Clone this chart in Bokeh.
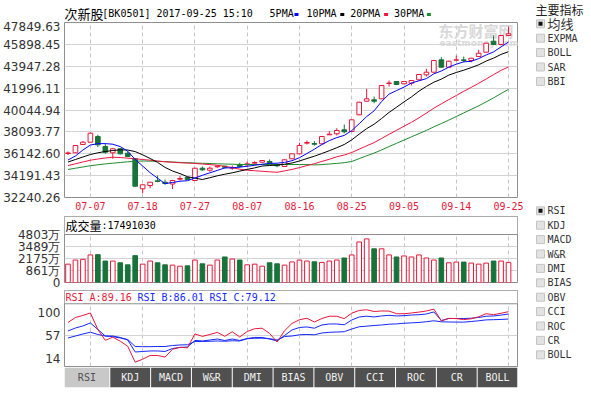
from bokeh.plotting import figure
from bokeh.layouts import row, column
from bokeh.models import ColumnDataSource, FixedTicker, Range1d, Span, Label, PrintfTickFormatter
from bokeh.core.properties import value
from bokeh.embed import file_html
from bokeh.resources import INLINE

# ---------------- data ----------------
board_name = "次新股"
board_code = "BK0501"
stamp = "2017-09-25 15:10"
ma_names = ["5PMA", "10PMA", "20PMA", "30PMA"]

dates = ["2017-07-04", "2017-07-05", "2017-07-06", "2017-07-07", "2017-07-10", "2017-07-11",
         "2017-07-12", "2017-07-13", "2017-07-14", "2017-07-17", "2017-07-18", "2017-07-19",
         "2017-07-20", "2017-07-21", "2017-07-24", "2017-07-25", "2017-07-26", "2017-07-27",
         "2017-07-28", "2017-07-31", "2017-08-01", "2017-08-02", "2017-08-03", "2017-08-04",
         "2017-08-07", "2017-08-08", "2017-08-09", "2017-08-10", "2017-08-11", "2017-08-14",
         "2017-08-15", "2017-08-16", "2017-08-17", "2017-08-18", "2017-08-21", "2017-08-22",
         "2017-08-23", "2017-08-24", "2017-08-25", "2017-08-28", "2017-08-29", "2017-08-30",
         "2017-08-31", "2017-09-01", "2017-09-04", "2017-09-05", "2017-09-06", "2017-09-07",
         "2017-09-08", "2017-09-11", "2017-09-12", "2017-09-13", "2017-09-14", "2017-09-15",
         "2017-09-18", "2017-09-19", "2017-09-20", "2017-09-21", "2017-09-22", "2017-09-25"]

opens = [36164, 36227, 36967, 37172, 37681, 36789, 36227, 36584, 36191, 35692,
         33016, 33310, 33729, 33604, 33444, 33872, 34024, 33756, 34853, 34675,
         34978, 35032, 34853, 35156, 35156, 35299, 35388, 35451, 35156, 35005,
         35692, 36138, 37083, 37056, 37030, 37832, 37922, 38278, 38127, 39616,
         40830, 40954, 41044, 42408, 42587, 42382, 42435, 42738, 43184, 43416,
         44522, 43862, 44487, 44522, 44460, 44817, 45200, 46182, 45887, 46690]
highs = [36343, 36923, 37279, 38038, 37832, 37030, 36655, 36655, 36343, 35745,
         33399, 33640, 34202, 33845, 33818, 34157, 34113, 34889, 35005, 35005,
         35121, 35067, 35094, 35335, 35451, 35478, 35585, 35629, 35246, 35629,
         36164, 37119, 37324, 37262, 37708, 38154, 38421, 38751, 39197, 40776,
         41936, 41249, 42257, 42676, 42631, 42631, 42703, 43238, 43720, 44487,
         44754, 44433, 44906, 44817, 44701, 45414, 46039, 46690, 46717, 47493]
lows = [36031, 36209, 36923, 37146, 36726, 36138, 35692, 36075, 35834, 33221,
        32623, 33069, 33604, 33372, 32998, 33756, 33801, 33711, 34621, 34532,
        34889, 34826, 34710, 34889, 35005, 35156, 35362, 35121, 34942, 34978,
        35656, 36102, 36967, 36878, 36994, 37815, 37770, 37975, 38082, 39581,
        40803, 40651, 41008, 42141, 42275, 42346, 42230, 42703, 43033, 43390,
        43809, 43836, 44398, 44308, 44308, 44790, 45174, 45860, 45860, 46663]
closes = [36218, 36878, 37172, 37975, 36940, 36280, 36584, 36138, 35897, 33248,
          33372, 33604, 33667, 33488, 33756, 33934, 33845, 34853, 34710, 34853,
          35032, 34930, 34916, 35005, 35246, 35362, 35540, 35272, 35067, 35602,
          36138, 36878, 37146, 36994, 37681, 37886, 38216, 38100, 39170, 40740,
          41044, 40830, 42230, 42453, 42319, 42587, 42676, 43211, 43416, 44460,
          43862, 44398, 44522, 44460, 44665, 45111, 46003, 45887, 46690, 46842]

ma5 = [35585, 35941, 36477, 36923, 37039, 37048, 36994, 36780, 36370, 35629,
       35049, 34452, 33961, 33479, 33578, 33694, 33738, 33979, 34220, 34443,
       34657, 34878, 34887, 34949, 35029, 35112, 35210, 35281, 35299, 35371,
       35522, 35790, 36164, 36548, 36967, 37315, 37583, 37779, 38207, 38823,
       39456, 39973, 40803, 41463, 41775, 42087, 42453, 42649, 42845, 43274,
       43523, 43871, 44130, 44344, 44380, 44629, 44951, 45227, 45673, 46110]
ma10 = [35406, 35629, 35852, 36075, 36227, 36343, 36432, 36494, 36477, 36334,
        36048, 35718, 35371, 34925, 34603, 34371, 34095, 33970, 33845, 34006,
        34175, 34318, 34443, 34594, 34746, 34880, 35049, 35094, 35130, 35210,
        35317, 35495, 35718, 35924, 36164, 36414, 36682, 36967, 37378, 37895,
        38385, 38778, 39286, 39831, 40294, 40767, 41213, 41722, 42150, 42524,
        42801, 43158, 43390, 43595, 43827, 44076, 44406, 44674, 45004, 45245]
ma20 = [35094, 35246, 35406, 35567, 35674, 35763, 35834, 35808, 35745, 35692,
        35629, 35567, 35495, 35424, 35379, 35344, 35308, 35272, 35228, 35174,
        35112, 35023, 34907, 34759, 34675, 34630, 34577, 34532, 34492, 34612,
        34746, 34907, 35085, 35255, 35460, 35652, 35870, 36031, 36254, 36552,
        36851, 37137, 37507, 37877, 38234, 38595, 38947, 39349, 39768, 40210,
        40598, 40972, 41338, 41713, 42061, 42426, 42810, 43202, 43581, 43885]
ma30 = [34737, 34853, 34960, 35076, 35156, 35237, 35299, 35362, 35424, 35478,
        35495, 35486, 35469, 35442, 35406, 35371, 35344, 35317, 35290, 35272,
        35246, 35228, 35210, 35192, 35183, 35183, 35183, 35183, 35183, 35183,
        35183, 35183, 35178, 35148, 35174, 35228, 35281, 35344, 35451, 35705,
        35959, 36200, 36486, 36784, 37074, 37360, 37654, 37931, 38225, 38546,
        38836, 39144, 39465, 39786, 40098, 40419, 40767, 41124, 41516, 41891]

# volume in 万 (10k) shares
volume_wan = [1559, 2007, 2085, 2566, 2599, 1895, 1895, 1705, 1481, 2487,
              1559, 1895, 1705, 1481, 1448, 1336, 1369, 2007, 1593, 1448,
              2007, 2342, 2118, 2007, 1481, 1559, 1336, 1705, 1593, 1448,
              1800, 2007, 1895, 1817, 1749, 1895, 2007, 2230, 2566, 3985,
              4321, 3236, 3236, 2566, 2342, 2454, 2342, 2566, 2230, 2007,
              2230, 1705, 1783, 1783, 1671, 1559, 1671, 1895, 1895, 1749]
last_volume = 17491030

rsi_a = [74.4, 81.2, 84.0, 87.4, 64.8, 49.9, 54.2, 48.7, 41.7, 19.9,
         24.0, 29.1, 29.1, 26.9, 37.6, 40.3, 39.6, 58.7, 55.3, 57.9,
         60.8, 55.4, 61.6, 54.5, 62.0, 65.8, 66.5, 59.3, 47.6, 63.0,
         73.0, 78.1, 80.1, 75.0, 79.8, 82.9, 82.9, 79.6, 87.2, 90.8,
         91.8, 89.4, 90.1, 90.0, 86.4, 86.3, 87.4, 88.6, 90.1, 92.7,
         76.4, 80.0, 79.7, 78.3, 79.4, 82.2, 86.4, 85.0, 87.0, 89.16]
rsi_b = [62.7, 66.8, 69.6, 73.7, 64.8, 55.8, 55.8, 53.8, 50.3, 33.9,
         34.6, 35.3, 35.3, 34.6, 38.7, 40.1, 40.7, 49.7, 49.0, 50.3,
         51.7, 49.7, 51.7, 49.7, 52.4, 53.8, 53.8, 51.7, 49.0, 56.5,
         64.1, 67.5, 68.2, 66.5, 70.9, 72.3, 72.3, 71.2, 77.8, 81.9,
         83.0, 81.9, 83.3, 84.2, 83.3, 83.7, 84.6, 85.0, 86.0, 88.8,
         77.1, 79.8, 79.8, 79.8, 80.2, 81.2, 82.9, 83.3, 84.5, 86.01]
rsi_c = [53.1, 55.8, 58.6, 61.0, 57.9, 55.8, 54.9, 53.1, 51.0, 41.4,
         41.2, 41.2, 41.4, 41.4, 42.8, 43.5, 43.8, 48.3, 48.3, 48.6,
         49.0, 48.6, 49.3, 49.0, 52.1, 52.7, 52.8, 52.1, 50.3, 55.1,
         55.8, 57.5, 57.9, 57.5, 59.9, 60.9, 61.3, 61.7, 65.4, 68.5,
         69.3, 70.2, 70.9, 72.0, 72.4, 73.3, 73.8, 74.4, 75.4, 76.7,
         75.3, 75.0, 74.9, 74.8, 75.7, 76.7, 77.9, 78.2, 78.5, 79.12]

price_ticks = [47849.63, 45898.45, 43947.28, 41996.11, 40044.94,
               38093.77, 36142.60, 34191.43, 32240.26]
vol_ticks = [861, 2175, 3489, 4803]
vol_floor = -453          # value at the bottom edge of the volume pane (labelled 0)
vol_header_top = 6774     # pane top incl. header strip
rsi_ticks = [100, 57, 14]
rsi_header_top = 118.2
date_tick_labels = ["07-07", "07-18", "07-27", "08-07", "08-16",
                    "08-25", "09-05", "09-14", "09-25"]

main_indicators = ["均线", "EXPMA", "BOLL", "SAR", "BBI"]
sub_indicators = ["RSI", "KDJ", "MACD", "W&R", "DMI", "BIAS", "OBV", "CCI", "ROC", "CR", "BOLL"]

# ---------------- style ----------------
RED = "#e8173a"
GREEN = "#18733a"
BLUE = "#1428ff"
MA_COLORS = ["#0000ff", "#000000", "#f01640", "#1f8b2c"]
FRAME = "#8f8f8f"
GRID_H = "#d3d3d3"
GRID_V = "#c6c6c6"
TEXT = "#333333"
MONO = "DejaVu Sans Mono"
SANS = "DejaVu Sans"
CJK = "Noto Sans CJK SC"

n = len(dates)
idx = list(range(n))
is_up = [c >= o for o, c in zip(opens, closes)]
edge = [RED if u else GREEN for u in is_up]
face = ["#ffffff" if u else GREEN for u in is_up]
tick_idx = [dates.index("2017-" + s) for s in date_tick_labels]

X = Range1d(-0.467, n + 0.2)
LEFT_W, FRAME_L, FRAME_R = 530, 62, 517


def panel(height, y_range, top, bottom, x_axis=None, y_axis="left"):
    p = figure(width=LEFT_W, height=height, x_range=X, y_range=y_range,
               x_axis_location=x_axis, y_axis_location=y_axis,
               output_backend="svg", toolbar_location=None, title=None,
               min_border_left=FRAME_L, min_border_right=LEFT_W - FRAME_R,
               min_border_top=top, min_border_bottom=bottom,
               background_fill_color="white", border_fill_color="white",
               outline_line_color=FRAME)
    p.xgrid.ticker = FixedTicker(ticks=tick_idx)
    p.xgrid.grid_line_color = GRID_V
    p.xgrid.grid_line_dash = "4 3"
    p.ygrid.grid_line_color = GRID_H
    for ax in p.axis:
        ax.axis_line_color = None
        ax.major_tick_line_color = None
        ax.minor_tick_line_color = None
        ax.major_tick_out = 0
        ax.major_tick_in = 0
        ax.minor_tick_out = 0
        ax.minor_tick_in = 0
        ax.major_label_standoff = 4
        ax.major_label_text_color = TEXT
        ax.major_label_text_font = SANS
        ax.major_label_text_font_size = "12px"
    return p


def deco(width, height, x_range, y_range, left=0, right=0, top=0, bottom=0):
    p = figure(width=width, height=height, x_range=x_range, y_range=y_range,
               x_axis_location=None, y_axis_location=None, output_backend="svg",
               toolbar_location=None, title=None, min_border_left=left,
               min_border_right=right, min_border_top=top, min_border_bottom=bottom,
               outline_line_color=None, background_fill_color="white",
               border_fill_color="white")
    p.grid.visible = False
    return p


def txt(p, x, y, s, font=MONO, size="10px", color="#000000", align="left", **kw):
    p.text(x=[x], y=[y], text=[s], text_font=value(font), text_font_size=value(size),
           text_color=color, text_align=align, text_baseline="middle", **kw)


# ---------------- header row (same frame as the panes below) ----------------
p_head = deco(LEFT_W, 21, Range1d(FRAME_L, FRAME_R), Range1d(21, 0),
              left=FRAME_L, right=LEFT_W - FRAME_R)
txt(p_head, 62, 12.5, board_name, font=CJK, size="13px")
txt(p_head, 100, 12.5, f"[{board_code}] {stamp}")
leg_x = [268, 305, 349, 393]
leg_mark = [295, 341, 385, 428]
for name, lx, mx, col in zip(ma_names, leg_x, leg_mark, MA_COLORS):
    txt(p_head, lx, 12.5, name)
    p_head.rect(x=[mx], y=[14], width=4, height=3, fill_color=col, line_color=None)

# ---------------- main price pane ----------------
p_main = panel(194, Range1d(min(price_ticks), max(price_ticks)), 1, 18, x_axis="below")
p_main.yaxis.ticker = FixedTicker(ticks=price_ticks)
p_main.yaxis.formatter = PrintfTickFormatter(format="%.2f")
p_main.xaxis.ticker = FixedTicker(ticks=tick_idx)
p_main.xaxis.major_label_overrides = {i: s for i, s in zip(tick_idx, date_tick_labels)}
p_main.xaxis.major_label_text_color = RED
p_main.xaxis.major_label_text_font = MONO
p_main.xaxis.major_label_text_font_size = "10px"

p_main.add_layout(Label(x=374, y=167, x_units="screen", y_units="screen", text="东方财富网",
                        text_font=CJK, text_font_size="15px", text_font_style="bold",
                        text_color="#d8d8d8", text_baseline="middle", level="underlay"))
p_main.add_layout(Label(x=375, y=155, x_units="screen", y_units="screen", text="eastmoney.com",
                        text_font=SANS, text_font_size="9px", text_font_style="bold",
                        text_color="#dadada", text_baseline="middle", level="underlay"))

src = ColumnDataSource(dict(x=idx, h=highs, l=lows,
                            top=[max(o, c) for o, c in zip(opens, closes)],
                            bottom=[min(o, c) for o, c in zip(opens, closes)],
                            edge=edge, face=face, vol=volume_wan))
p_main.segment(x0="x", y0="h", x1="x", y1="l", line_color="edge", line_width=1, source=src)
p_main.vbar(x="x", top="top", bottom="bottom", width=0.62, fill_color="face",
            line_color="edge", line_width=1, source=src)
for series, col in zip([ma30, ma20, ma10, ma5], MA_COLORS[::-1]):
    p_main.line(idx, series, line_color=col, line_width=1)

# ---------------- volume pane ----------------
p_vol = panel(74, Range1d(vol_floor, vol_header_top), 1, 7)
p_vol.yaxis.ticker = FixedTicker(ticks=[vol_floor] + vol_ticks)
overrides = {v: f"{v}万" for v in vol_ticks}
overrides[vol_floor] = "0"
p_vol.yaxis.major_label_overrides = overrides
p_vol.ygrid.ticker = FixedTicker(ticks=vol_ticks[:-1])
p_vol.vbar(x="x", top="vol", bottom=vol_floor, width=0.62, fill_color="face",
           line_color="edge", line_width=1, source=src)
p_vol.quad(left=X.start, right=X.end, bottom=vol_ticks[-1], top=vol_header_top,
           fill_color="white", line_color=None)
p_vol.add_layout(Span(location=vol_ticks[-1], dimension="width", line_color=FRAME, line_width=1))
vh = (vol_ticks[-1] + vol_header_top) / 2
txt(p_vol, X.start, vh, "成交量", font=CJK, size="12px", x_offset=1)
txt(p_vol, X.start, vh, f":{last_volume}", x_offset=37)

# ---------------- RSI pane ----------------
RSI_H = 78
rsi_frame = RSI_H - 2
rsi_range = Range1d(min(rsi_ticks), rsi_header_top)
p_rsi = panel(RSI_H, rsi_range, 1, 1)
# the extreme labels sit just inside the pane (as in the original): shift them ~8px inwards
units_per_px = (rsi_header_top - min(rsi_ticks)) / rsi_frame
label_pos = [rsi_ticks[0] - 8.4 * units_per_px, rsi_ticks[1], rsi_ticks[2] + 8.3 * units_per_px]
p_rsi.yaxis.ticker = FixedTicker(ticks=label_pos)
p_rsi.yaxis.major_label_overrides = {pos: str(t) for pos, t in zip(label_pos, rsi_ticks)}
p_rsi.ygrid.ticker = FixedTicker(ticks=[rsi_ticks[1]])
p_rsi.line(idx, rsi_c, line_color=BLUE, line_width=1)
p_rsi.line(idx, rsi_b, line_color=BLUE, line_width=1)
p_rsi.line(idx, rsi_a, line_color=RED, line_width=1)
p_rsi.quad(left=X.start, right=X.end, bottom=max(rsi_ticks), top=rsi_header_top,
           fill_color="white", line_color=None)
p_rsi.add_layout(Span(location=max(rsi_ticks), dimension="width", line_color=FRAME, line_width=1))
rh = (max(rsi_ticks) + rsi_header_top) / 2
txt(p_rsi, X.start, rh, f"RSI_A:{rsi_a[-1]:.2f}", color=RED, x_offset=1)
txt(p_rsi, X.start, rh, f"RSI_B:{rsi_b[-1]:.2f}", color=BLUE, x_offset=73)
txt(p_rsi, X.start, rh, f"RSI_C:{rsi_c[-1]:.2f}", color=BLUE, x_offset=145)

# ---------------- indicator tabs ----------------
p_tab = deco(LEFT_W, 21, Range1d(0, FRAME_R - FRAME_L), Range1d(0, 20),
             left=FRAME_L, right=LEFT_W - FRAME_R, bottom=1)
lefts = [0] + [46 + 41 * k for k in range(len(sub_indicators) - 1)]
rights = [45] + [86 + 41 * k for k in range(len(sub_indicators) - 1)]
tab_fill = ["#c8c8c8"] + ["#505050"] * (len(sub_indicators) - 1)
tab_text = ["#505050"] + ["#f2f2f2"] * (len(sub_indicators) - 1)
p_tab.quad(left=lefts, right=rights, bottom=0, top=20, fill_color=tab_fill, line_color=None)
p_tab.text(x=[(a + b) / 2 for a, b in zip(lefts, rights)], y=[10] * len(lefts), text=sub_indicators,
           text_font=value(MONO), text_font_size=value("10px"), text_color=tab_text,
           text_align="center", text_baseline="middle")

# ---------------- right indicator list ----------------
p_right = deco(61, 388, Range1d(530, 591), Range1d(388, 0))
txt(p_right, 535, 9.2, "主要指标", font=CJK, size="12px", color="#222222")


def check_list(items, y0):
    ys = [y0 + 14.4 * k for k in range(len(items))]
    p_right.rect(x=[540] * len(ys), y=ys, width=8, height=8,
                 fill_color="#e2e2e2", line_color="#c4c4c4")
    p_right.rect(x=[540], y=[ys[0]], width=4, height=4, fill_color="#111111", line_color=None)
    for s, y in zip(items, ys):
        if s.isascii():
            txt(p_right, 547, y, s, color=TEXT)
        else:
            txt(p_right, 547, y, s, font=CJK, size="13px", color=TEXT)


check_list(main_indicators, 23.3)
check_list(sub_indicators, 210.3)

left_col = column(p_head, p_main, p_vol, p_rsi, p_tab)
root = row(left_col, p_right)

open("out.html", "w", encoding="utf-8").write(file_html(root, INLINE))
